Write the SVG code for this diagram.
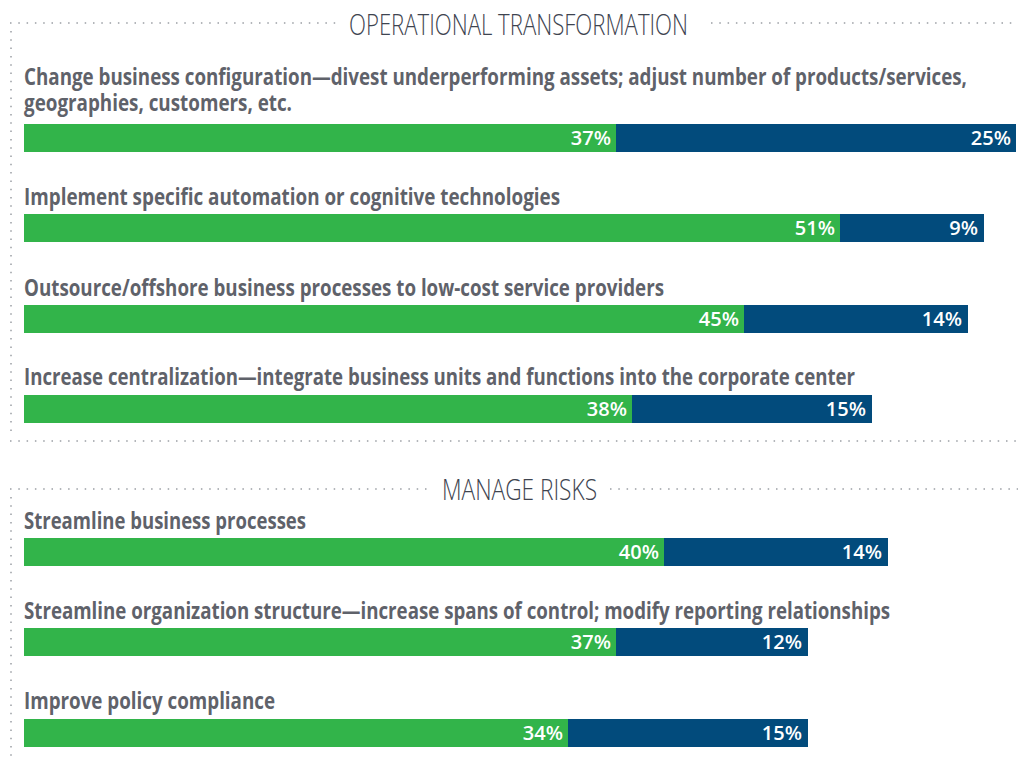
<svg xmlns="http://www.w3.org/2000/svg" width="1018" height="759" viewBox="0 0 1018 759">
<style>
.dot{stroke:#9a9ea4;stroke-width:1.5;stroke-dasharray:1.5 6.8;fill:none}
.title{font-family:"Open Sans","Liberation Sans",sans-serif;font-weight:300;font-size:30px;fill:#3e4450}
.lbl{font-family:"Open Sans","Liberation Sans",sans-serif;font-weight:700;font-size:23px;fill:#5f626a}
.g{fill:#32b44a}
.b{fill:#024b7c}
.pct{font-family:"Open Sans","Liberation Sans",sans-serif;font-weight:600;font-size:20px;fill:#ffffff;text-anchor:end}
</style>
<rect width="1018" height="759" fill="#ffffff"/>
<g id="frames">
<line class="dot" x1="10" y1="23" x2="336" y2="23"/>
<line class="dot" x1="711" y1="23" x2="1018" y2="23"/>
<line class="dot" x1="11" y1="31" x2="11" y2="436"/>
<line class="dot" x1="10" y1="441" x2="1018" y2="441"/>
<line class="dot" x1="10" y1="489" x2="430" y2="489"/>
<line class="dot" x1="610" y1="489" x2="1018" y2="489"/>
<line class="dot" x1="11" y1="497" x2="11" y2="759"/>
</g>
<g id="titles">
<text class="title" transform="translate(349,35) scale(0.75,1)" x="0" y="0" textLength="452" lengthAdjust="spacingAndGlyphs">OPERATIONAL TRANSFORMATION</text>
<text class="title" transform="translate(442,500) scale(0.75,1)" x="0" y="0" textLength="206.7" lengthAdjust="spacingAndGlyphs">MANAGE RISKS</text>
</g>
<g id="row1">
<text class="lbl" transform="translate(24,85) scale(0.75,1)" x="0" y="0" textLength="1257.3" lengthAdjust="spacingAndGlyphs">Change business configuration—divest underperforming assets; adjust number of products/services,</text>
<text class="lbl" transform="translate(24,111) scale(0.75,1)" x="0" y="0" textLength="357.3" lengthAdjust="spacingAndGlyphs">geographies, customers, etc.</text>
<rect class="g" x="24" y="124" width="592" height="28"/><rect class="b" x="616" y="124" width="400" height="28"/>
<text class="pct" x="611" y="145">37%</text><text class="pct" x="1011" y="145">25%</text>
</g>
<g id="row2">
<text class="lbl" transform="translate(24,205) scale(0.75,1)" x="0" y="0" textLength="714.7" lengthAdjust="spacingAndGlyphs">Implement specific automation or cognitive technologies</text>
<rect class="g" x="24" y="214" width="816" height="28"/><rect class="b" x="840" y="214" width="144" height="28"/>
<text class="pct" x="835" y="235">51%</text><text class="pct" x="978" y="235">9%</text>
</g>
<g id="row3">
<text class="lbl" transform="translate(24,296) scale(0.75,1)" x="0" y="0" textLength="853.3" lengthAdjust="spacingAndGlyphs">Outsource/offshore business processes to low-cost service providers</text>
<rect class="g" x="24" y="305" width="720" height="28"/><rect class="b" x="744" y="305" width="224" height="28"/>
<text class="pct" x="739" y="326">45%</text><text class="pct" x="962" y="326">14%</text>
</g>
<g id="row4">
<text class="lbl" transform="translate(24,385) scale(0.75,1)" x="0" y="0" textLength="1108" lengthAdjust="spacingAndGlyphs">Increase centralization—integrate business units and functions into the corporate center</text>
<rect class="g" x="24" y="395" width="608" height="28"/><rect class="b" x="632" y="395" width="240" height="28"/>
<text class="pct" x="627" y="416">38%</text><text class="pct" x="866" y="416">15%</text>
</g>
<g id="row5">
<text class="lbl" transform="translate(24,529) scale(0.75,1)" x="0" y="0" textLength="376" lengthAdjust="spacingAndGlyphs">Streamline business processes</text>
<rect class="g" x="24" y="538" width="640" height="28"/><rect class="b" x="664" y="538" width="224" height="28"/>
<text class="pct" x="659" y="559">40%</text><text class="pct" x="882" y="559">14%</text>
</g>
<g id="row6">
<text class="lbl" transform="translate(24,619) scale(0.75,1)" x="0" y="0" textLength="1154.7" lengthAdjust="spacingAndGlyphs">Streamline organization structure—increase spans of control; modify reporting relationships</text>
<rect class="g" x="24" y="628" width="592" height="28"/><rect class="b" x="616" y="628" width="192" height="28"/>
<text class="pct" x="611" y="649">37%</text><text class="pct" x="802" y="649">12%</text>
</g>
<g id="row7">
<text class="lbl" transform="translate(24,709) scale(0.75,1)" x="0" y="0" textLength="334.7" lengthAdjust="spacingAndGlyphs">Improve policy compliance</text>
<rect class="g" x="24" y="719" width="544" height="28"/><rect class="b" x="568" y="719" width="240" height="28"/>
<text class="pct" x="563" y="740">34%</text><text class="pct" x="802" y="740">15%</text>
</g>
</svg>
